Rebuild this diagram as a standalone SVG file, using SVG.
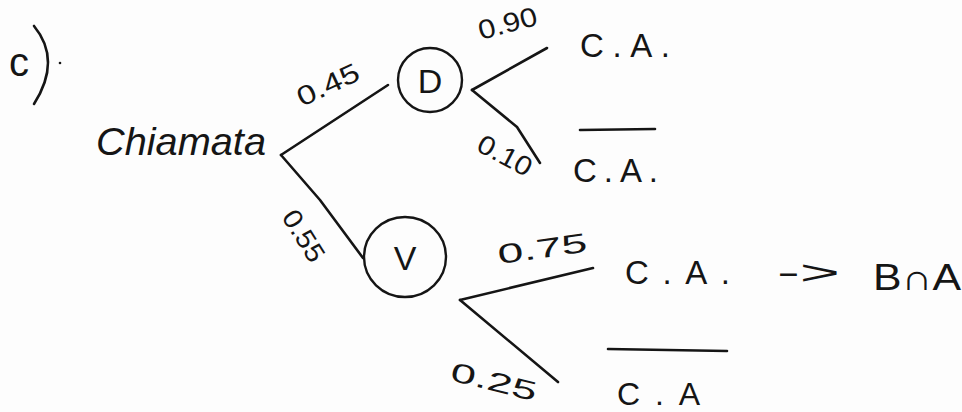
<svg xmlns="http://www.w3.org/2000/svg" width="962" height="412" viewBox="0 0 962 412">
<style>
.t{font-family:"Liberation Sans",Arial,sans-serif;fill:#151515}
.lbl{font-size:27px}
.big{font-size:33px}
.ln{stroke:#151515;stroke-width:2.6;fill:none;stroke-linecap:round;stroke-linejoin:round}
.circ{stroke:#151515;stroke-width:2.4;fill:none}
</style>
<rect width="962" height="412" fill="#fdfdfd"/>
<g id="part-label">
<text class="t" x="9" y="76" font-size="40">c</text>
<path class="ln" d="M34 26 Q62 60 34 104"/>
<circle cx="60" cy="63" r="1.3" fill="#151515"/>
</g>
<g id="connectors">
<path class="ln" d="M281 155 L388 85"/>
<path class="ln" d="M281 155 L320 200 L363 258"/>
<path class="ln" d="M472 90 L547 48"/>
<path class="ln" d="M472 90 L517 127 L540 163"/>
<path class="ln" d="M460 300 L593 268"/>
<path class="ln" d="M460 300 L558 382"/>
</g>
<g id="edge-labels">
<text class="t lbl" transform="translate(302 107) rotate(-25)" textLength="66" lengthAdjust="spacingAndGlyphs">0.45</text>
<text class="t lbl" transform="translate(481 40) rotate(-15)" textLength="60" lengthAdjust="spacingAndGlyphs">0.90</text>
<text class="t lbl" transform="translate(475 150) rotate(28)" textLength="58" lengthAdjust="spacingAndGlyphs">0.10</text>
<text class="t lbl" transform="translate(281 217) rotate(58)" textLength="56" lengthAdjust="spacingAndGlyphs">0.55</text>
<text class="t lbl" transform="translate(499 264) rotate(-8)" font-size="30" textLength="90" lengthAdjust="spacingAndGlyphs">0.75</text>
<text class="t lbl" transform="translate(449 380) rotate(14)" font-size="30" textLength="88" lengthAdjust="spacingAndGlyphs">0.25</text>
</g>
<g id="node-root">
<text class="t" x="96" y="155" font-size="38" font-style="italic" textLength="170" lengthAdjust="spacingAndGlyphs">Chiamata</text>
</g>
<g id="node-D">
<ellipse class="circ" cx="430" cy="80" rx="32" ry="32"/>
<text class="t" x="430" y="93" font-size="34" text-anchor="middle">D</text>
</g>
<g id="node-V">
<ellipse class="circ" cx="405" cy="257" rx="41" ry="40"/>
<text class="t" x="405" y="270" font-size="34" text-anchor="middle">V</text>
</g>
<g id="leaf-D-CA">
<text class="t big" x="580" y="57" textLength="90" lengthAdjust="spacing">C.A.</text>
</g>
<g id="leaf-D-notCA">
<path class="ln" d="M580 130 L655 129"/>
<text class="t big" x="573" y="182" textLength="85" lengthAdjust="spacing">C.A.</text>
</g>
<g id="leaf-V-CA">
<text class="t big" x="625" y="284" textLength="105" lengthAdjust="spacing">C.A.</text>
<text class="t big" x="777" y="284" textLength="63" lengthAdjust="spacingAndGlyphs">-&gt;</text>
<text class="t" x="873" y="290" font-size="36" textLength="88" lengthAdjust="spacingAndGlyphs">B∩A</text>
</g>
<g id="leaf-V-notCA">
<path class="ln" d="M608 349 L727 351"/>
<text class="t" x="617" y="405" font-size="32" textLength="83" lengthAdjust="spacing">C.A</text>
</g>
</svg>
